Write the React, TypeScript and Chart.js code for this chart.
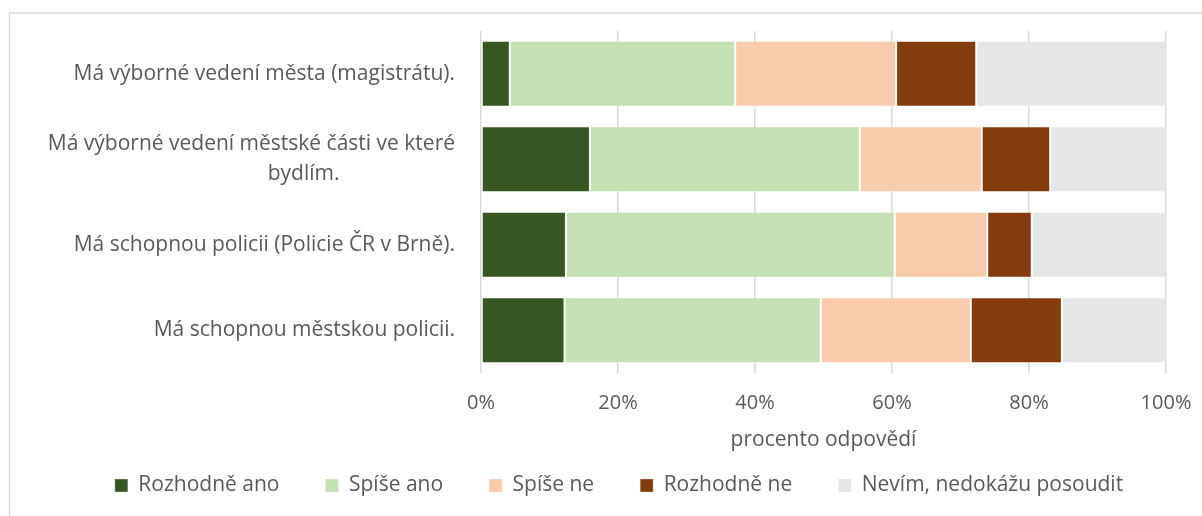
import React, { useEffect, useRef } from 'react';
import { Chart, registerables } from 'chart.js';

Chart.register(...registerables);

// ---- data ----
const categoryLines: string[][] = [
  ['Má výborné vedení města (magistrátu).'],
  ['Má výborné vedení městské části ve které', 'bydlím.'],
  ['Má schopnou policii (Policie ČR v Brně).'],
  ['Má schopnou městskou policii.'],
];
const seriesNames = ['Rozhodně ano', 'Spíše ano', 'Spíše ne', 'Rozhodně ne', 'Nevím, nedokážu posoudit'];
const rozhodneAno = [4.2, 15.9, 12.4, 12.2];
const spiseAno = [32.9, 39.4, 48.0, 37.4];
const spiseNe = [23.5, 17.8, 13.5, 21.9];
const rozhodneNe = [11.7, 10.0, 6.5, 13.3];
const nevim = [27.7, 16.9, 19.6, 15.2];
const xTickValues = [0, 20, 40, 60, 80, 100];
const xAxisTitle = 'procento odpovědí';
const seriesColors = ['#375623', '#C5E0B4', '#F8CBAD', '#843C0C', '#E6E6E6'];

const TEXT = '#595959';
const GRID = '#d9d9d9';
const FONT = '"Open Sans", sans-serif';

const frameBorder = {
  id: 'frameBorder',
  beforeDraw(chart: any) {
    const { ctx, width, height } = chart;
    ctx.save();
    ctx.strokeStyle = GRID;
    ctx.lineWidth = 1.5;
    ctx.beginPath();
    ctx.moveTo(1.5, height);
    ctx.lineTo(1.5, 5);
    ctx.lineTo(width, 5);
    ctx.stroke();
    ctx.restore();
  },
};

export default function App() {
  const ref = useRef<HTMLCanvasElement | null>(null);

  useEffect(() => {
    if (!ref.current) return;
    const values = [rozhodneAno, spiseAno, spiseNe, rozhodneNe, nevim];
    const chart = new Chart(ref.current, {
      type: 'bar',
      data: {
        labels: categoryLines.map((l) => l.join(' ')),
        datasets: seriesNames.map((name, i) => ({
          label: name,
          data: values[i],
          backgroundColor: seriesColors[i],
          borderColor: 'rgba(255,255,255,0.3)',
          borderWidth: 1,
          borderSkipped: false,
          categoryPercentage: 0.773,
          barPercentage: 1,
        })),
      },
      options: {
        indexAxis: 'y',
        responsive: false,
        animation: false,
        layout: { padding: { top: 23, bottom: 10, left: 0, right: 0 } },
        scales: {
          x: {
            stacked: true,
            min: xTickValues[0],
            max: xTickValues[xTickValues.length - 1],
            afterBuildTicks: (scale: any) => {
              scale.ticks = xTickValues.map((v) => ({ value: v }));
            },
            afterFit: (scale: any) => {
              scale.height = 56;
              scale.paddingLeft = 0;
              scale.paddingRight = 64;
            },
            grid: { color: GRID, lineWidth: 1.5, drawTicks: false },
            border: { display: false },
            ticks: {
              padding: 18,
              color: TEXT,
              font: { family: FONT, size: 20 },
              callback: (v: any) => v + '%',
            },
            title: {
              display: true,
              text: xAxisTitle,
              color: TEXT,
              font: { family: FONT, size: 21 },
              padding: { top: 0, bottom: -24 },
            },
          },
          y: {
            stacked: true,
            afterFit: (scale: any) => {
              scale.width = 473;
              scale.paddingTop = 0;
              scale.paddingBottom = 0;
            },
            grid: { display: false, drawTicks: false },
            border: { display: false },
            ticks: {
              padding: 26,
              color: TEXT,
              font: { family: FONT, size: 21, lineHeight: 1.45 },
              callback: (_v: any, i: number) => {
                const lines = categoryLines[i];
                if (lines.length === 1) return lines[0];
                return lines.map((ln, k) => (k === 0 ? ln : ln + '\u2003'.repeat(5) + '\u2002'));
              },
            },
          },
        },
        plugins: {
          legend: {
            position: 'bottom',
            labels: {
              boxWidth: 13,
              boxHeight: 13,
              padding: 46,
              color: TEXT,
              font: { family: FONT, size: 21 },
            },
          },
          tooltip: { enabled: false },
        },
      },
      plugins: [frameBorder],
    } as any);
    return () => chart.destroy();
  }, []);

  return (
    <div
      style={{
        position: 'fixed',
        left: 8,
        top: 8,
        width: 1194,
        height: 508,
        overflow: 'hidden',
        background: '#fff',
      }}
    >
      <canvas ref={ref} width={1222} height={508} style={{ display: 'block' }} />
    </div>
  );
}
